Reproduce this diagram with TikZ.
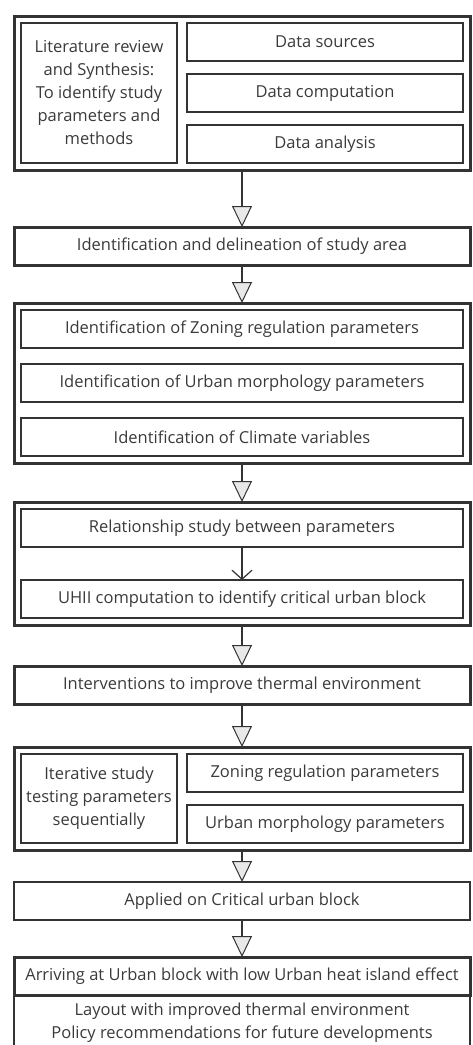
\documentclass[tikz,border=0pt]{standalone}
\usepackage{fontspec}
\setmainfont{Open Sans}
\usetikzlibrary{arrows.meta,positioning,fit}
\definecolor{ink}{HTML}{333333}
\definecolor{txt}{HTML}{3A3A3A}
\definecolor{tipfill}{HTML}{E8E8E8}

\begin{document}
\begin{tikzpicture}[
  x=1pt, y=-1pt, color=ink, text=txt,
  font=\fontsize{16.5}{23}\selectfont,
  box/.style={draw=ink, line width=1.2pt, minimum height=38pt, inner sep=2pt,
              align=center, outer sep=0pt},
  wide/.style={box, minimum width=442pt},
  full/.style={box, minimum width=456pt},
  half/.style={box, minimum width=276pt},
  side/.style={box, minimum width=156pt},
  heavy/.style={line width=3pt},
  frame/.style={draw=ink, line width=3pt, inner sep=7pt, outer sep=0pt},
  flow/.style={-{Triangle[length=21pt, width=20pt, fill=tipfill, line width=1pt]},
               line width=1.2pt},
  link/.style={-{Straight Barb[length=9pt, width=20pt, line width=1.2pt]}, line width=1.2pt},
]
\useasboundingbox (0,0) rectangle (472,1045);

% literature block
\node[side, minimum height=140pt] (lit) at (99,93)
  {Literature review\\and Synthesis:\\To identify study\\parameters and\\methods};
\node[half] (src) at (325,42) {Data sources};
\node[half] (comp) at (325,93) {Data computation};
\node[half] (ana) at (325,144) {Data analysis};
\node[frame, fit=(lit)(src)(ana)] (blk1) {};

% study area
\node[full, heavy] (area) at (242,246) {Identification and delineation of study area};

% parameters
\node[wide] (zon) at (242,329) {Identification of Zoning regulation parameters};
\node[wide] (morph) at (242,383) {Identification of Urban morphology parameters};
\node[wide] (clim) at (242,437) {Identification of Climate variables};
\node[frame, fit=(zon)(clim)] (blk3) {};

% relationship and UHII
\node[wide] (rel) at (242,528) {Relationship study between parameters};
\node[wide] (uhii) at (242,599) {UHII computation to identify critical urban block};
\node[frame, fit=(rel)(uhii)] (blk4) {};

% interventions
\node[full, heavy] (interv) at (242,685) {Interventions to improve thermal environment};

% iterative study
\node[side, minimum height=89pt] (iter) at (99,798.5)
  {Iterative study\\testing parameters\\sequentially};
\node[half] (zon2) at (325,773) {Zoning regulation parameters};
\node[half] (morph2) at (325,824) {Urban morphology parameters};
\node[frame, fit=(iter)(zon2)(morph2)] (blk6) {};

% outcome
\node[full] (applied) at (242,901) {Applied on Critical urban block};
\node[full, heavy] (arrive) at (242,976) {Arriving at Urban block with low Urban heat island effect};
\node[full, minimum height=56pt, anchor=north] (result) at (242,995)
  {Layout with improved thermal environment\\Policy recommendations for future developments};

% connectors
\draw[flow] (blk1) -- (area);
\draw[flow] (area) -- (blk3);
\draw[flow] (blk3) -- (blk4);
\draw[link] (rel) -- (uhii);
\draw[flow] (blk4) -- (interv);
\draw[flow] (interv) -- (blk6);
\draw[flow] (blk6) -- (applied);
\draw[flow] (applied) -- (arrive);
\end{tikzpicture}
\end{document}
